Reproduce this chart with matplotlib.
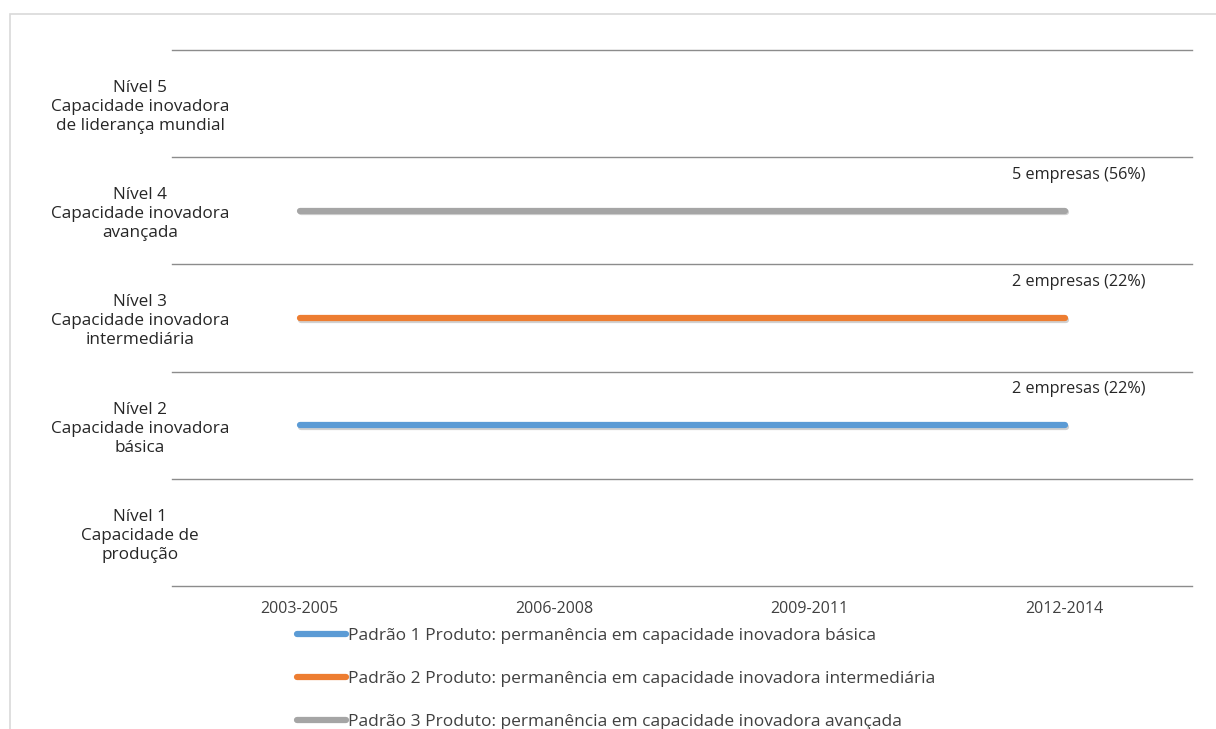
import matplotlib
matplotlib.use("Agg")
import matplotlib.pyplot as plt
import matplotlib.patheffects as pe
from matplotlib.patches import Rectangle

periods = ["2003-2005", "2006-2008", "2009-2011", "2012-2014"]
level_labels = [
    "Nível 1\nCapacidade de\nprodução",
    "Nível 2\nCapacidade inovadora\nbásica",
    "Nível 3\nCapacidade inovadora\nintermediária",
    "Nível 4\nCapacidade inovadora\navançada",
    "Nível 5\nCapacidade inovadora\nde liderança mundial",
]
series_names = [
    "Padrão 1 Produto: permanência em capacidade inovadora básica",
    "Padrão 2 Produto: permanência em capacidade inovadora intermediária",
    "Padrão 3 Produto: permanência em capacidade inovadora avançada",
]
padrao1 = [2, 2, 2, 2]
padrao2 = [3, 3, 3, 3]
padrao3 = [4, 4, 4, 4]
end_labels = ["2 empresas (22%)", "2 empresas (22%)", "5 empresas (56%)"]
colors = ["#5B9BD5", "#ED7D31", "#A5A5A5"]

plt.rcParams['font.family'] = ['Open Sans', 'DejaVu Sans']

fig = plt.figure(figsize=(12.16, 7.29), dpi=100)
fig.patches.append(Rectangle((10/1216, -0.1), 1.2, (729-14)/729 + 0.1,
                             transform=fig.transFigure, fill=False,
                             edgecolor="#D9D9D9", linewidth=1.2))
ax = fig.add_axes([172/1216, 1 - 586/729, (1192-172)/1216, (586-50)/729])

x = list(range(len(periods)))
handles = []
for vals, col, name, lab in zip([padrao1, padrao2, padrao3], colors, series_names, end_labels):
    h, = ax.plot(x, vals, color=col, linewidth=4.5, solid_capstyle='round', label=name,
                 path_effects=[pe.SimpleLineShadow(offset=(0.8, -1.2), shadow_color='#000000', alpha=0.18),
                               pe.Normal()], zorder=3)
    handles.append(h)
    ax.annotate(lab, (x[-1], vals[-1]), xytext=(10, 26), textcoords='offset points',
                ha='center', va='center', fontsize=11.7, color='#262626')

ax.set_xlim(-0.5, 3.5)
ax.set_ylim(0.5, 5.5)
ax.set_yticks([1, 2, 3, 4, 5])
ax.set_yticklabels(level_labels, fontsize=12.3, color='#262626', multialignment='center',
                   linespacing=1.25)
for t in ax.get_yticklabels():
    t.set_horizontalalignment('center')
ax.set_xticks(x)
ax.set_xticklabels(periods, fontsize=11.5, color='#404040')
ax.tick_params(axis='y', length=0, pad=23)
ax.tick_params(axis='x', length=0, pad=10.5)
for v in [0.5, 1.5, 2.5, 3.5, 4.5, 5.5]:
    ax.axhline(v, color='#8C8C8C', linewidth=1.0, zorder=1, clip_on=False)
for s in ax.spines.values():
    s.set_visible(False)

leg = fig.legend(handles=handles, loc='upper left', bbox_to_anchor=(297/1216, 1 - 628/729),
                 frameon=False, fontsize=12.5, handlelength=2.85, handletextpad=0.1,
                 labelspacing=1.55, borderpad=0, borderaxespad=0)
for t in leg.get_texts():
    t.set_color('#404040')
for lh in leg.get_lines():
    lh.set_path_effects([pe.Normal()])
    lh.set_linewidth(4.5)

fig.savefig("out.png", dpi=100)
